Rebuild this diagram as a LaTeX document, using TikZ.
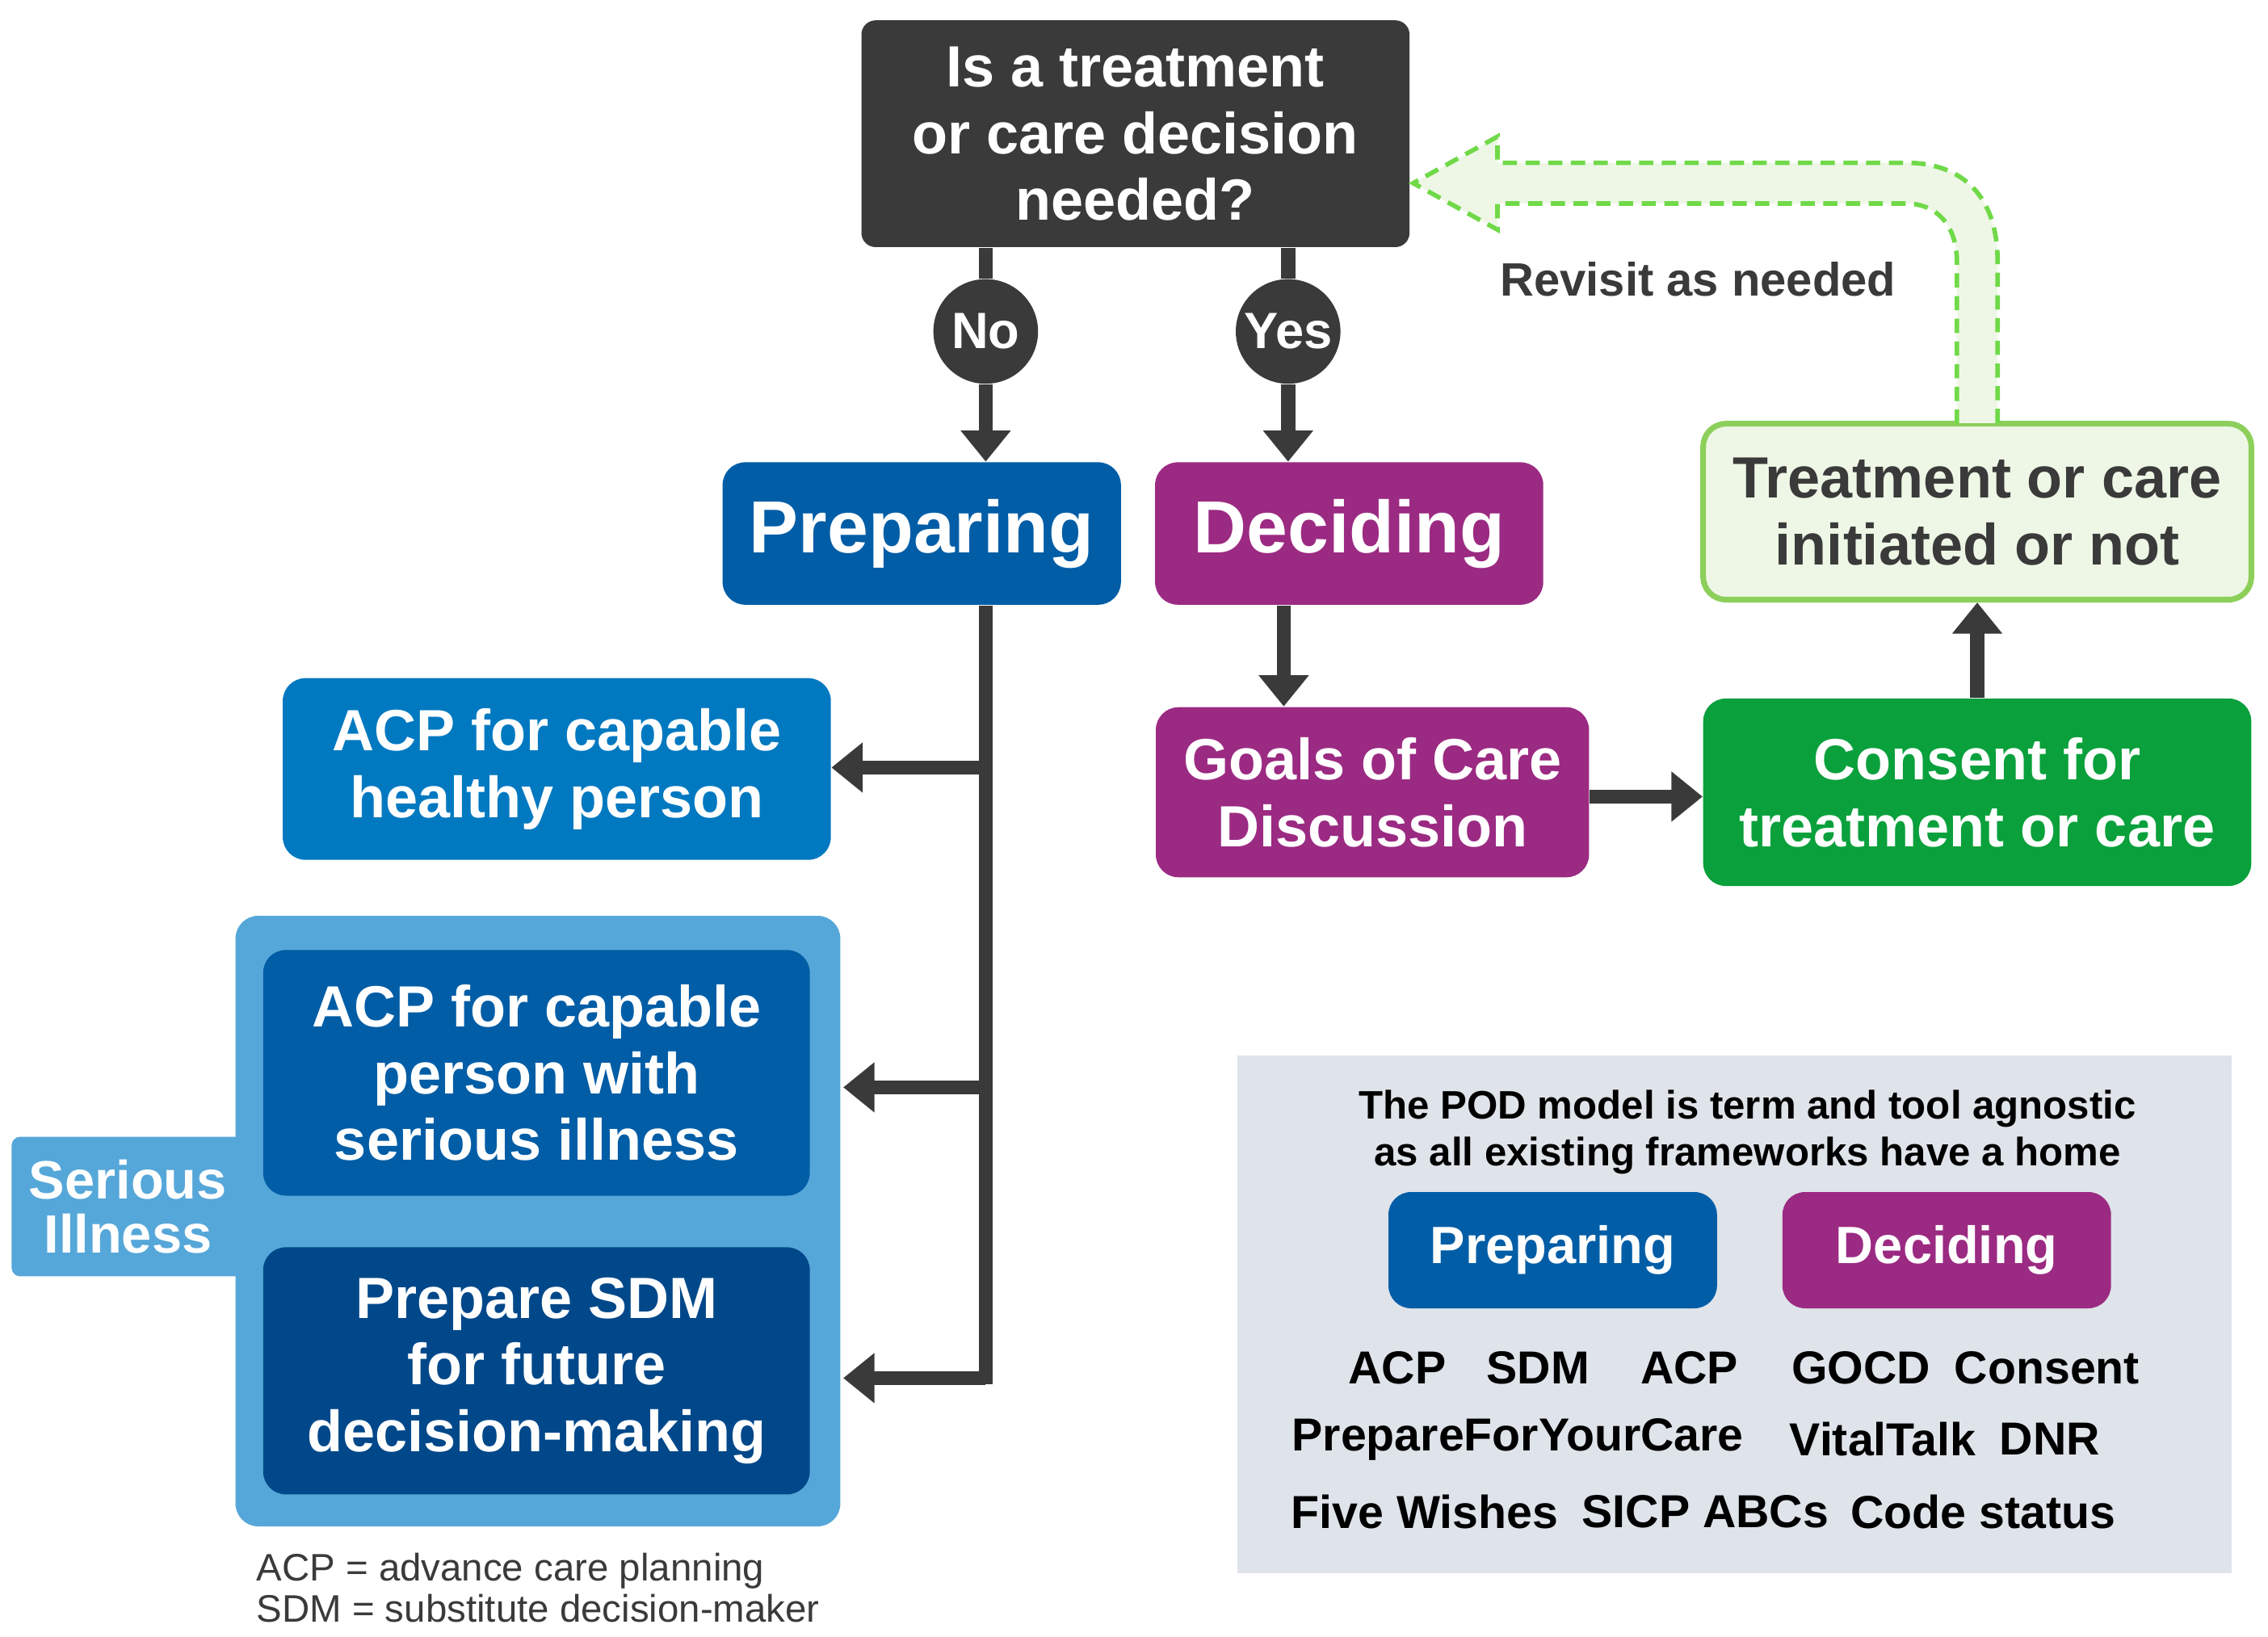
\documentclass[tikz,border=0pt]{standalone}
\usepackage{fontspec}
\setmainfont{Liberation Sans}
\usetikzlibrary{arrows.meta}
\definecolor{dk}{HTML}{3A3A3A}
\definecolor{prep}{HTML}{005DA6}
\definecolor{prepl}{HTML}{0079C1}
\definecolor{prepd}{HTML}{00488A}
\definecolor{sil}{HTML}{56A7D9}
\definecolor{dec}{HTML}{9B2A82}
\definecolor{grn}{HTML}{0AA03C}
\definecolor{grnl}{HTML}{EEF7E6}
\definecolor{grnb}{HTML}{8CCF5A}
\definecolor{leg}{HTML}{DFE3EA}
\begin{document}
\begin{tikzpicture}[x=0.018cm,y=-0.018cm,
  box/.style={rounded corners=8pt,text=white,font=\bfseries,align=center,inner sep=0pt},
  bt/.style={font=\bfseries\fontsize{20.5}{23.5}\selectfont},
  big/.style={font=\bfseries\fontsize{26}{30}\selectfont},
  arr/.style={draw=dk,line width=5pt,-{Triangle[width=17pt,length=11pt]}},
  circ/.style={circle,fill=dk,text=white,font=\bfseries\fontsize{18}{22}\selectfont,minimum size=72*0.018cm,inner sep=0pt},
  lw/.style={font=\bfseries\fontsize{16.3}{20}\selectfont,text=black}]
\useasboundingbox (0,0) rectangle (1560,1126);
\node[box,fill=dk,rounded corners=5pt,minimum width=377*0.018cm,minimum height=156*0.018cm,bt] (q) at (781,92) {Is a treatment\\or care decision\\needed?};
\node[circ] (no) at (678,228) {No};
\node[circ] (yes) at (886,228) {Yes};
\node[box,fill=prep,minimum width=274*0.018cm,minimum height=98*0.018cm,big] (p) at (634,367) {Preparing};
\node[box,fill=dec,minimum width=267*0.018cm,minimum height=98*0.018cm,big] (d) at (928,367) {Deciding};
\draw[draw=dk,line width=5pt] (q.south -| no) -- (no);
\draw[draw=dk,line width=5pt] (q.south -| yes) -- (yes);
\draw[arr] (no) -- (no |- p.north);
\draw[arr] (yes) -- (yes |- d.north);
% serious illness container
\node[box,fill=sil,rounded corners=3pt,minimum width=160*0.018cm,minimum height=96*0.018cm,font=\bfseries\fontsize{19}{19}\selectfont] (si) at (88,830) {Serious\\Illness};
\node[box,fill=sil,minimum width=416*0.018cm,minimum height=420*0.018cm] (cont) at (370,840) {};
\node[box,fill=prepl,minimum width=377*0.018cm,minimum height=125*0.018cm,bt] (a1) at (383,529) {ACP for capable\\healthy person};
\node[box,fill=prep,minimum width=376*0.018cm,minimum height=169*0.018cm,bt] (a2) at (369,738) {ACP for capable\\person with\\serious illness};
\node[box,fill=prepd,minimum width=376*0.018cm,minimum height=170*0.018cm,bt] (a3) at (369,943) {Prepare SDM\\for future\\decision-making};
\coordinate (t1) at (678,528);
\coordinate (t2) at (678,748);
\coordinate (t3) at (678,948);
\coordinate (e2) at (580,748);
\coordinate (e3) at (580,948);
\draw[draw=dk,line width=5pt] (p.south -| no) -- (678,952);
\draw[arr] (t1) -- (a1.east |- t1);
\draw[arr] (t2) -- (e2);
\draw[arr] (t3) -- (e3);
% deciding side
\node[box,fill=dec,minimum width=298*0.018cm,minimum height=117*0.018cm,bt] (g) at (944,545) {Goals of Care\\Discussion};
\node[box,fill=grn,minimum width=377*0.018cm,minimum height=129*0.018cm,bt] (c) at (1360,545) {Consent for\\treatment or care};
\node[box,fill=grnl,draw=grnb,line width=2pt,text=dk,minimum width=377*0.018cm,minimum height=121*0.018cm,bt] (t) at (1360,352) {Treatment or care\\initiated or not};
\draw[arr] (d.south -| 883,0) -- (883,486);
\draw[arr] (g.east |- 0,548) -- (c.west |- 0,548);
\draw[arr] (c.north) -- (t.south);
% revisit arrow
\draw[draw=grnb!80!green,fill=grnl,line width=1.6pt,dash pattern=on 5pt off 3pt]
 (1374,291) -- (1374,180) .. controls (1374,135) and (1350,112) .. (1311,112) -- (1030,112) -- (1030,94) -- (972,126) -- (1030,158) -- (1030,140) -- (1311,140) .. controls (1332,140) and (1346,155) .. (1346,180) -- (1346,291);
\node[font=\bfseries\fontsize{16.5}{20}\selectfont,text=dk] (rv) at (1168,192) {Revisit as needed};
% legend
\node[fill=leg,minimum width=684*0.018cm,minimum height=356*0.018cm,inner sep=0pt] (lg) at (1193,904) {};
\node[font=\bfseries\fontsize{14}{16.5}\selectfont,align=center] (lt) at (1202,779) {The POD model is term and tool agnostic\\as all existing frameworks have a home};
\node[box,fill=prep,minimum width=226*0.018cm,minimum height=80*0.018cm,font=\bfseries\fontsize{18.5}{22}\selectfont] (lp) at (1068,860) {Preparing};
\node[box,fill=dec,minimum width=226*0.018cm,minimum height=80*0.018cm,font=\bfseries\fontsize{18.5}{22}\selectfont] (ld) at (1339,860) {Deciding};
\node[lw] (w1) at (961,941) {ACP};
\node[lw] (w2) at (1058,941) {SDM};
\node[lw] (w3) at (1162,941) {ACP};
\node[lw] (w4) at (1280,941) {GOCD};
\node[lw] (w5) at (1408,941) {Consent};
\node[lw] (w6) at (1044,990) {PrepareForYourCare};
\node[lw] (w7) at (1295,990) {VitalTalk};
\node[lw] (w8) at (1410,990) {DNR};
\node[lw] (w9) at (980,1040) {Five Wishes};
\node[lw] (w10) at (1173,1040) {SICP ABCs};
\node[lw] (w11) at (1364,1040) {Code status};
\node[anchor=north west,align=left,font=\fontsize{13.5}{14.5}\selectfont,text=dk,inner sep=0pt] (fn) at (176,1068) {ACP = advance care planning\\SDM = substitute decision-maker};
\end{tikzpicture}
\end{document}
